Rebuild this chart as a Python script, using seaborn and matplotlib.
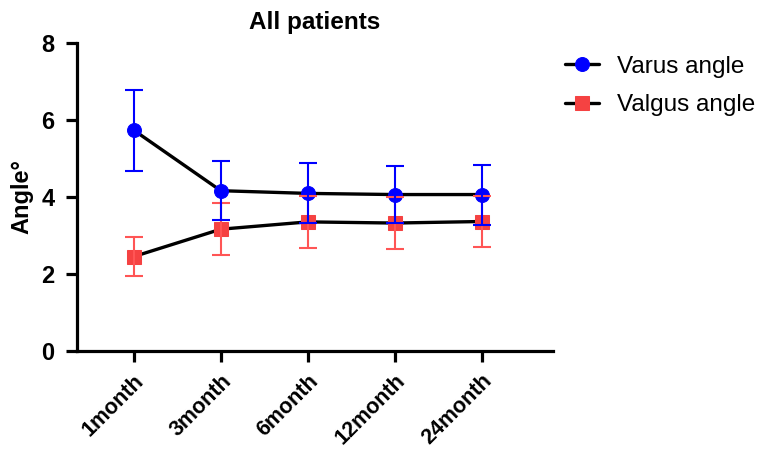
import matplotlib
matplotlib.use("Agg")
import matplotlib.pyplot as plt
import seaborn as sns
import pandas as pd
import numpy as np

categories = ["1month", "3month", "6month", "12month", "24month"]
varus_mean = [5.73, 4.16, 4.09, 4.06, 4.06]
varus_sd = [1.05, 0.77, 0.78, 0.75, 0.78]
valgus_mean = [2.45, 3.16, 3.35, 3.32, 3.36]
valgus_sd = [0.50, 0.68, 0.67, 0.67, 0.66]
y_ticks = [0, 2, 4, 6, 8]

sns.set_style("ticks")
plt.rcParams['font.family'] = ['Liberation Sans', 'DejaVu Sans']
plt.rcParams['text.color'] = 'black'
plt.rcParams['axes.labelcolor'] = 'black'
plt.rcParams['xtick.color'] = 'black'
plt.rcParams['ytick.color'] = 'black'

fig = plt.figure(figsize=(7.69, 4.51), dpi=100)
ax = fig.add_axes([0.100, 0.222, 0.619, 0.683])

pos = np.arange(len(categories))
df = pd.DataFrame({"pos": np.concatenate([pos, pos]),
                   "value": varus_mean + valgus_mean,
                   "series": ["Varus angle"] * 5 + ["Valgus angle"] * 5})

blue = "#0000FF"
red = "#F54242"

sns.lineplot(data=df[df.series == "Valgus angle"], x="pos", y="value", ax=ax,
             color="black", lw=2.4, marker="s", markersize=9.5,
             markerfacecolor=red, markeredgecolor=red, label="Valgus angle", zorder=2)
sns.lineplot(data=df[df.series == "Varus angle"], x="pos", y="value", ax=ax,
             color="black", lw=2.4, marker="o", markersize=10,
             markerfacecolor=blue, markeredgecolor=blue, label="Varus angle", zorder=3)

ax.errorbar(pos, valgus_mean, yerr=valgus_sd, fmt="none", ecolor="#FF5555",
            elinewidth=1.5, capsize=6.5, capthick=1.5, zorder=4)
ax.errorbar(pos, varus_mean, yerr=varus_sd, fmt="none", ecolor=blue,
            elinewidth=1.5, capsize=6.5, capthick=1.5, zorder=5)

ax.set_xlim(-0.655, 4.82)
ax.set_ylim(0, 8)
ax.set_yticks(y_ticks)
ax.set_xticks(pos)
ax.set_xticklabels(categories, rotation=45, ha="right", rotation_mode="anchor",
                   fontsize=15.5, fontweight="bold")
for lab in ax.get_yticklabels():
    lab.set_fontsize(17)
    lab.set_fontweight("bold")
ax.set_xlabel("")
ax.set_ylabel("Angle°", fontsize=17, fontweight="bold", labelpad=6)
ax.set_title("All patients", fontsize=17.5, fontweight="bold", pad=10)

for s in ["top", "right"]:
    ax.spines[s].set_visible(False)
for s in ["left", "bottom"]:
    ax.spines[s].set_linewidth(2.3)
    ax.spines[s].set_color("black")
ax.tick_params(axis="both", width=2.3, length=8, color="black")
ax.tick_params(axis="y", pad=8)
ax.tick_params(axis="x", pad=6)

handles, labels = ax.get_legend_handles_labels()
order = [labels.index("Varus angle"), labels.index("Valgus angle")]
ax.get_legend().remove()
fig.legend([handles[i] for i in order], [labels[i] for i in order],
           loc="upper left", bbox_to_anchor=(0.706, 0.925), frameon=False,
           fontsize=17.5, handlelength=1.4, handletextpad=0.75, labelspacing=0.68)

fig.savefig("out.png", dpi=100)
